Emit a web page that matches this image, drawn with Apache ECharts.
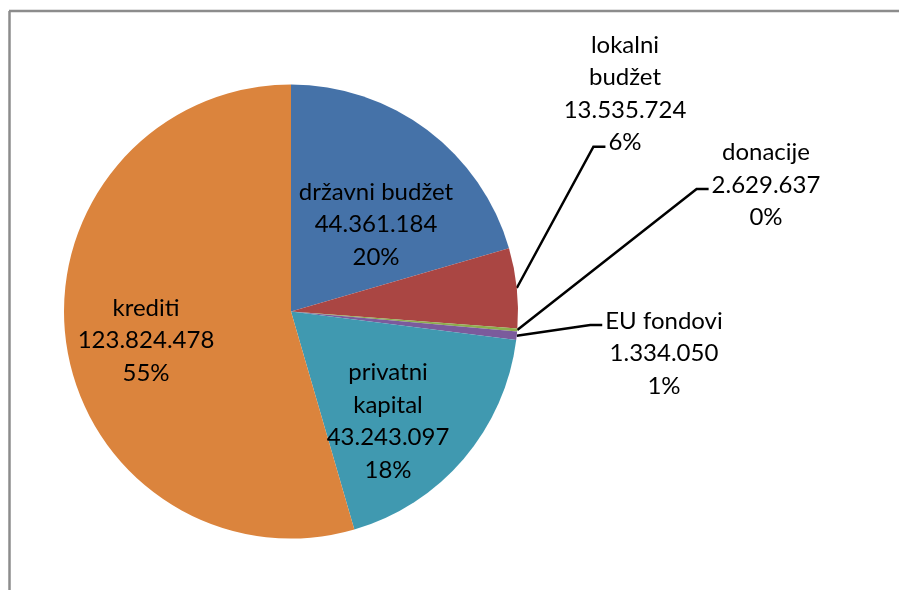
<!DOCTYPE html>
<html>
<head>
<meta charset="utf-8">
<script src="https://cdn.jsdelivr.net/npm/echarts@6/dist/echarts.min.js"></script>
<style>
  html, body { margin: 0; padding: 0; background: #ffffff; }
  #chart { width: 899px; height: 590px; }
</style>
</head>
<body>
<div id="chart"></div>
<script>
// ---- data ----
const categories = ['državni budžet', 'lokalni budžet', 'donacije', 'EU fondovi', 'privatni kapital', 'krediti'];
const labelNames = ['državni budžet', 'lokalni\nbudžet', 'donacije', 'EU fondovi', 'privatni\nkapital', 'krediti'];
const amounts = [44361184, 13535724, 2629637, 1334050, 43243097, 123824478];
const percentLabels = ['20%', '6%', '0%', '1%', '18%', '55%'];
// slice sizes as drawn in the reference (share of the full circle, %)
const sliceShares = [20.5, 5.7, 0.2, 0.6, 18.5, 54.5];

// ---- styles / layout ----
const colors = ['#4572A8', '#AA4643', '#8DAE4E', '#7B5B9C', '#4099B0', '#DB843D'];
const FONT_FAMILY = 'Lato';
const FONT_SIZE = 24;
const LINE_H = 32.5;
// label block centres and which text line the leader line points to
const labelPlacement = [
  { x: 376, y: 224.5 },
  { x: 625, y: 94, lead: 3 },
  { x: 766, y: 185, lead: 1 },
  { x: 664, y: 353.5, lead: 0 },
  { x: 388, y: 421.5 },
  { x: 146, y: 340.5 }
];
const insideIdx = [0, 4, 5];

function fmtAmount(n) {
  return String(n).replace(/\B(?=(\d{3})+(?!\d))/g, '.');
}
function labelText(i) {
  return labelNames[i] + '\n' + fmtAmount(amounts[i]) + '\n' + percentLabels[i];
}
const measureCtx = document.createElement('canvas').getContext('2d');
measureCtx.font = FONT_SIZE + 'px ' + FONT_FAMILY;
function textWidth(s) { return measureCtx.measureText(s).width; }

const seriesData = categories.map(function (name, i) {
  const inside = insideIdx.indexOf(i) >= 0;
  return {
    name: name,
    value: sliceShares[i],
    itemStyle: { color: colors[i] },
    label: { position: inside ? 'inside' : 'outside' },
    labelLine: { show: !inside }
  };
});

const chart = echarts.init(document.getElementById('chart'), null, { renderer: 'canvas' });
chart.setOption({
  animation: false,
  backgroundColor: '#ffffff',
  graphic: [
    { type: 'line', shape: { x1: 9, y1: 11, x2: 899, y2: 11 }, style: { stroke: '#8c8c8c', lineWidth: 2.5 } },
    { type: 'line', shape: { x1: 9.5, y1: 11, x2: 9.5, y2: 590 }, style: { stroke: '#8c8c8c', lineWidth: 2.5 } }
  ],
  series: [{
    type: 'pie',
    center: [291, 311.5],
    radius: 227,
    startAngle: 90,
    clockwise: true,
    avoidLabelOverlap: false,
    itemStyle: { borderWidth: 0 },
    emphasis: { disabled: true },
    label: {
      show: true,
      formatter: function (p) { return labelText(p.dataIndex); },
      fontFamily: FONT_FAMILY,
      fontSize: FONT_SIZE,
      lineHeight: LINE_H,
      color: '#000000',
      align: 'center',
      width: 240,
      overflow: 'none'
    },
    labelLine: {
      show: true,
      length: 20,
      length2: 10,
      smooth: false,
      lineStyle: { color: '#000000', width: 2.5 }
    },
    labelLayout: function (params) {
      const i = params.dataIndex;
      const L = labelPlacement[i];
      const res = { x: L.x, y: L.y, align: 'center', verticalAlign: 'middle' };
      if (L.lead != null && params.labelLinePoints && params.labelLinePoints.length) {
        const lines = labelText(i).split('\n');
        const top = L.y - lines.length * LINE_H / 2;
        const w = textWidth(lines[L.lead]);
        const ex = L.x - w / 2 - 3;
        const ey = top + (L.lead + 0.5) * LINE_H + 4;
        const start = params.labelLinePoints[0];
        res.labelLinePoints = [[start[0], start[1]], [ex - 12, ey], [ex, ey]];
      }
      return res;
    },
    data: seriesData
  }]
});
</script>
</body>
</html>
